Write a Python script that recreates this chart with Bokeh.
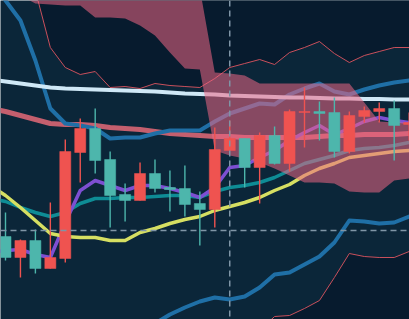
from bokeh.plotting import figure
from bokeh.models import Range1d, Span, ColumnDataSource
from bokeh.embed import file_html
from bokeh.resources import INLINE

# ---- candle data (index 0..27) ----
opens  = [106.2,107.9,105.1,106.2,116.8,119.1,115.9,112.4,111.9,114.6,113.1,113.0,111.5,111.0,
          117.0,118.1,115.2,118.4,115.6,120.8,120.8,120.6,116.8,120.4,120.9,121.1,119.4,119.7]
highs  = [110.7,108.0,109.0,111.7,118.0,120.1,121.1,116.8,113.6,115.7,116.0,114.9,115.4,112.8,
          119.2,119.9,118.1,118.7,119.3,121.0,123.2,121.8,122.2,120.8,121.3,121.7,121.9,120.7]
lows   = [105.9,104.2,104.6,105.1,105.7,113.7,114.6,109.2,109.8,111.9,112.7,110.8,110.3,107.4,
          109.2,116.9,113.2,111.6,115.5,114.8,117.2,117.9,116.2,116.6,119.7,119.7,115.9,117.9]
closes = [108.3,106.2,107.9,105.1,106.1,116.7,119.1,116.0,112.5,111.9,114.6,113.2,113.1,111.6,
          111.0,116.9,118.1,115.2,118.4,115.6,120.7,120.8,120.7,116.8,120.3,120.8,121.1,119.5]

# ---- indicator data (index -1..27) ----
line_idx = list(range(-1, 28))
ma_long   = [124.0,123.8,123.6,123.4,123.2,123.1,123.05,123.0,122.95,122.9,122.85,122.8,122.7,122.6,
             122.55,122.5,122.4,122.35,122.3,122.25,122.2,122.2,122.15,122.1,122.1,122.05,122.05,122.0,122.0]
ma_mid    = [121.1,120.8,120.4,120.0,119.6,119.5,119.5,119.4,119.2,119.1,119.0,118.8,118.6,118.5,
             118.4,118.3,118.3,118.2,118.2,118.2,118.2,118.2,118.3,118.4,118.4,118.5,118.5,118.5,118.6]
bb_upper  = [133.9,131.9,129.9,125.9,121.1,119.6,119.4,119.1,118.1,118.2,118.2,118.6,118.9,118.9,
             118.9,119.8,120.6,121.1,121.6,121.5,122.5,123.1,123.6,122.8,122.5,123.0,123.4,123.7,123.9]
bb_lower  = [89.9,91.9,92.9,94.9,96.9,97.4,97.9,98.1,98.4,98.7,99.1,99.6,100.5,101.2,101.8,102.2,
             102.0,102.3,103.2,104.5,104.7,105.5,106.3,107.7,109.9,109.8,109.6,109.7,110.3]
outer_up  = [140.9,138.9,135.9,132.9,127.2,125.2,124.5,124.8,123.2,123.3,123.1,123.6,123.4,123.3,
             123.2,124.1,125.2,125.6,126.0,125.5,126.7,127.2,127.8,126.6,125.7,126.4,126.8,127.2,127.2]
outer_lo  = [79.9,81.9,83.9,85.9,89.9,91.9,92.9,93.4,93.9,94.4,94.9,95.4,95.9,96.4,96.9,97.4,97.9,
             98.4,98.9,100.3,100.4,101.1,101.9,104.2,106.6,106.3,106.2,106.2,106.8]
tenkan    = [106.7,106.9,107.0,106.5,106.2,109.7,112.9,113.9,113.4,112.9,113.4,113.4,113.1,112.7,
             112.2,113.2,115.2,115.4,116.2,116.9,117.9,118.7,119.4,118.5,119.1,119.8,120.2,119.9,119.7]
kijun     = [112.1,111.8,111.2,110.7,110.3,110.7,111.6,112.1,112.1,112.2,112.2,112.3,112.4,112.4,
             112.2,112.8,113.2,113.4,113.7,114.2,114.9,115.6,116.0,116.4,116.9,117.1,117.2,117.4,117.7]
ma_short  = [113.4,112.4,111.2,109.9,108.6,108.3,108.2,108.2,107.9,107.9,108.7,109.1,109.6,110.0,
             110.3,110.9,111.3,111.7,112.2,112.9,113.5,114.4,115.1,115.6,116.2,116.4,116.6,116.8,116.9]
span_a    = [140.5,140.2,139.9,139.6,139.4,139.1,138.8,138.6,138.3,137.9,137.5,137.0,136.2,135.0,
             133.1,124.7,124.6,124.4,123.6,123.6,123.6,123.6,123.6,123.6,123.6,121.7,119.8,119.7,119.7]
span_b    = [136.9,134.9,132.4,131.6,131.5,131.4,131.4,130.2,130.2,130.1,129.4,128.4,126.7,125.1,
             125.0,116.9,116.4,116.1,115.7,115.1,114.4,113.7,113.7,113.6,112.8,112.7,112.7,113.9,114.1]

crosshair_index = 15
crosshair_price = 108.9

BG = "#0b2639"
DARK = "#071b2e"
UP = "#4db6ac"
DOWN = "#ef5350"

p = figure(width=409, height=319, output_backend="svg", toolbar_location=None,
           x_range=Range1d(-0.334, 27.024), y_range=Range1d(100.0, 131.9),
           min_border=0, min_border_left=0, min_border_right=0,
           min_border_top=0, min_border_bottom=0)
p.axis.visible = False
p.grid.visible = False
p.outline_line_color = None
p.background_fill_color = BG
p.border_fill_color = BG

# darker zones outside the outer bands
p.varea(x=line_idx, y1=outer_up, y2=[160.0] * len(line_idx), fill_color=DARK)
p.varea(x=line_idx, y1=outer_lo, y2=[60.0] * len(line_idx), fill_color=DARK)

lk = dict(line_join="round", line_cap="round")
p.line(line_idx, outer_up, line_color="#c9505c", line_width=1)
p.line(line_idx, outer_lo, line_color="#c9505c", line_width=1)
p.line(line_idx, ma_mid, line_color="#c45f6e", line_width=5, **lk)
p.line(line_idx, bb_upper, line_color="#1f6fa6", line_width=4, **lk)
p.line(line_idx, bb_lower, line_color="#1f6fa6", line_width=4, **lk)
p.line(line_idx, ma_long, line_color="#cfe8f6", line_width=4, **lk)
p.line(line_idx, kijun, line_color="#0e8c95", line_width=3.5, **lk)
p.line(line_idx, tenkan, line_color="#7d4fd2", line_width=3.5, **lk)
p.line(line_idx, ma_short, line_color="#d6df62", line_width=3.5, **lk)

# cloud
p.varea(x=line_idx, y1=span_a, y2=span_b, fill_color="#ef6685", fill_alpha=0.55)

# crosshair
p.add_layout(Span(location=crosshair_index, dimension="height", line_color="#7f95a6",
                  line_width=1.5, line_dash="6 4"))
p.add_layout(Span(location=crosshair_price, dimension="width", line_color="#7f95a6",
                  line_width=1.5, line_dash="6 4"))

# candles
idx = list(range(len(opens)))
colors = [UP if c >= o else DOWN for o, c in zip(opens, closes)]
src = ColumnDataSource(dict(
    x=idx, high=highs, low=lows,
    top=[max(o, c) for o, c in zip(opens, closes)],
    bottom=[min(o, c) for o, c in zip(opens, closes)],
    color=colors))
p.segment(x0="x", y0="low", x1="x", y1="high", line_color="color", line_width=1.4, source=src)
p.vbar(x="x", width=0.74, top="top", bottom="bottom", fill_color="color",
       line_color="color", line_width=0.5, source=src)

open("out.html", "w").write(file_html(p, INLINE))
